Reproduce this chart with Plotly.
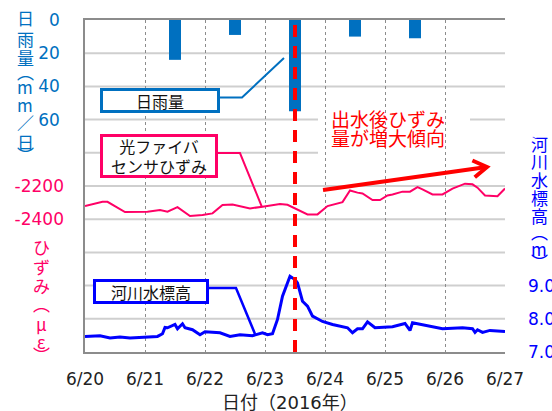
import math
import plotly.graph_objects as go

# ---- data -------------------------------------------------------------
# daily rainfall (mm/day), drawn at noon of each day
RAIN_DAYS = ["2016-06-21 12:00", "2016-06-22 12:00", "2016-06-23 12:00",
             "2016-06-24 12:00", "2016-06-25 12:00"]
RAIN_MM = [24, 9, 55, 10, 11]

# optical fibre sensor strain (micro-strain)
STRAIN_TIME = [
    "2016-06-20 00:00", "2016-06-20 07:00", "2016-06-20 09:00", "2016-06-20 16:00",
    "2016-06-21 01:00", "2016-06-21 06:00", "2016-06-21 09:00", "2016-06-21 13:00",
    "2016-06-21 18:00", "2016-06-21 23:00", "2016-06-22 03:00", "2016-06-22 07:00",
    "2016-06-22 11:00", "2016-06-22 18:00", "2016-06-22 23:00", "2016-06-23 06:00",
    "2016-06-23 09:00", "2016-06-23 14:00", "2016-06-23 17:00", "2016-06-23 21:00",
    "2016-06-24 01:00", "2016-06-24 07:00", "2016-06-24 10:00", "2016-06-24 13:00",
    "2016-06-24 15:00", "2016-06-24 19:00", "2016-06-24 22:00", "2016-06-25 01:00",
    "2016-06-25 03:00", "2016-06-25 07:00", "2016-06-25 10:00", "2016-06-25 13:00",
    "2016-06-25 15:00", "2016-06-25 19:00", "2016-06-25 23:00", "2016-06-26 03:00",
    "2016-06-26 08:00", "2016-06-26 11:00", "2016-06-26 13:00", "2016-06-26 16:00",
    "2016-06-26 21:00", "2016-06-27 00:00",
]
STRAIN_UE = [
    -2321, -2295, -2295, -2357,
    -2355, -2345, -2355, -2327,
    -2381, -2375, -2365, -2315,
    -2311, -2335, -2325, -2309,
    -2313, -2351, -2371, -2371,
    -2321, -2297, -2227, -2240,
    -2245, -2285, -2285, -2257,
    -2251, -2234, -2234, -2207,
    -2220, -2251, -2251, -2216,
    -2186, -2190, -2210, -2257,
    -2261, -2215,
]

# river water surface elevation (m)
LEVEL_TIME = [
    "2016-06-20 00:00", "2016-06-20 06:00", "2016-06-20 10:00", "2016-06-20 14:00",
    "2016-06-20 18:00", "2016-06-21 05:00", "2016-06-21 07:00", "2016-06-21 08:00",
    "2016-06-21 09:00", "2016-06-21 12:00", "2016-06-21 13:00", "2016-06-21 15:00",
    "2016-06-21 16:00", "2016-06-21 19:00", "2016-06-21 22:00", "2016-06-22 00:00",
    "2016-06-22 06:00", "2016-06-22 10:00", "2016-06-22 14:00", "2016-06-22 19:00",
    "2016-06-22 23:00", "2016-06-23 01:00", "2016-06-23 03:00", "2016-06-23 05:00",
    "2016-06-23 07:00", "2016-06-23 10:00", "2016-06-23 12:00", "2016-06-23 13:00",
    "2016-06-23 15:00", "2016-06-23 17:00", "2016-06-23 19:00", "2016-06-23 23:00",
    "2016-06-24 03:00", "2016-06-24 09:00", "2016-06-24 11:00", "2016-06-24 13:00",
    "2016-06-24 15:00", "2016-06-24 17:00", "2016-06-24 20:00", "2016-06-25 03:00",
    "2016-06-25 08:00", "2016-06-25 10:00", "2016-06-25 11:00", "2016-06-25 14:00",
    "2016-06-25 18:00", "2016-06-25 23:00", "2016-06-26 07:00", "2016-06-26 11:00",
    "2016-06-26 12:00", "2016-06-26 13:00", "2016-06-26 15:00", "2016-06-26 18:00",
    "2016-06-27 00:00",
]
LEVEL_M = [
    7.47, 7.49, 7.42, 7.45,
    7.42, 7.47, 7.55, 7.74,
    7.73, 7.83, 7.70, 7.85,
    7.73, 7.67, 7.52, 7.61,
    7.58, 7.47, 7.52, 7.49,
    7.58, 7.52, 7.55, 7.98,
    8.68, 9.28, 9.18, 9.08,
    8.53, 8.38, 8.08, 7.92,
    7.83, 7.73, 7.58, 7.70,
    7.70, 7.91, 7.73, 7.76,
    7.86, 7.65, 7.88, 7.83,
    7.77, 7.70, 7.73, 7.70,
    7.59, 7.67, 7.59, 7.65,
    7.62,
]

DATE_TICKS = ["2016-06-20", "2016-06-21", "2016-06-22", "2016-06-23",
              "2016-06-24", "2016-06-25", "2016-06-26", "2016-06-27"]
DATE_LABELS = ["6/20", "6/21", "6/22", "6/23", "6/24", "6/25", "6/26", "6/27"]
RAIN_TICKS = [0, 20, 40, 60]
RAIN_GRID = [20, 40, 60, 80, 100, 120, 140, 160, 180]
STRAIN_TICKS = [-2400, -2200]
STRAIN_LABELS = ["-2400", "-2200"]
LEVEL_TICKS = [7, 8, 9]
LEVEL_LABELS = ["7.0", "8.0", "9.0"]
FLOOD_TIME = "2016-06-23 12:00"

# ---- styling ----------------------------------------------------------
W, H = 552, 411
L, R, T, B = 85, 47, 20, 59
PW, PH = W - L - R, H - T - B

RAIN_C = "#0070C0"
STRAIN_C = "#FF0066"
LEVEL_C = "#0000FF"
RED = "#FF0000"
GRID_C = "#CFCFCF"
FONT = "DejaVu Sans, Noto Sans CJK JP, sans-serif"
JFONT = "Noto Sans CJK JP, DejaVu Sans, sans-serif"


def px(x):
    return (x - L) / PW


def py(y):
    return (H - B - y) / PH


fig = go.Figure()

fig.add_trace(go.Bar(
    x=RAIN_DAYS, y=RAIN_MM, yaxis="y", marker_color=RAIN_C,
    marker_line_width=0, width=0.2 * 86400000, name="日雨量",
))
fig.add_trace(go.Scatter(
    x=STRAIN_TIME, y=STRAIN_UE, yaxis="y2", mode="lines",
    line=dict(color=STRAIN_C, width=2), name="光ファイバセンサひずみ",
))
fig.add_trace(go.Scatter(
    x=LEVEL_TIME, y=LEVEL_M, yaxis="y3", mode="lines",
    line=dict(color=LEVEL_C, width=3), name="河川水標高",
))

tickfont = dict(family=FONT, size=17)

fig.update_layout(
    width=W, height=H, margin=dict(l=L, r=R, t=T, b=B, autoexpand=False),
    paper_bgcolor="white", plot_bgcolor="white", showlegend=False,
    xaxis=dict(
        type="date", range=[DATE_TICKS[0], DATE_TICKS[-1]], automargin=False,
        tickvals=DATE_TICKS, ticktext=DATE_LABELS, ticks="",
        tickfont=dict(tickfont, color="#222222"), ticklabelstandoff=11,
        showgrid=True, gridcolor="#8C8C8C", griddash="3px,3px", gridwidth=1,
        showline=True, linecolor="#8C8C8C", linewidth=1.5, mirror=True,
        zeroline=False,
    ),
    yaxis=dict(
        range=[200, 0], tickvals=RAIN_TICKS, ticks="", automargin=False,
        tickfont=dict(tickfont, color=RAIN_C), ticklabelstandoff=20,
        showgrid=False, zeroline=False,
        showline=True, linecolor="#8C8C8C", linewidth=1.5,
    ),
    yaxis2=dict(
        range=[-3200, -1200], tickvals=STRAIN_TICKS, ticktext=STRAIN_LABELS,
        ticks="", automargin=False, overlaying="y", side="left",
        tickfont=dict(tickfont, color=STRAIN_C), ticklabelstandoff=20,
        showgrid=False, zeroline=False,
    ),
    yaxis3=dict(
        range=[7, 17], tickvals=LEVEL_TICKS, ticktext=LEVEL_LABELS, ticks="",
        overlaying="y", side="right", anchor="x", automargin=False,
        tickfont=dict(tickfont, color=LEVEL_C), ticklabelstandoff=22,
        showgrid=False, zeroline=False,
    ),
)

shapes = []
# horizontal grid lines at every rainfall-axis step
for g in RAIN_GRID:
    shapes.append(dict(type="line", xref="paper", yref="y", x0=0, x1=1,
                       y0=g, y1=g, layer="between",
                       line=dict(color=GRID_C, width=2)))
# flood timing marker
shapes.append(dict(type="line", xref="x", yref="paper", x0=FLOOD_TIME, x1=FLOOD_TIME,
                   y0=0, y1=1, layer="above",
                   line=dict(color=RED, width=4, dash="12px,9px")))
# white panel behind the remark text
shapes.append(dict(type="rect", xref="paper", yref="paper",
                   x0=px(318), x1=px(470), y0=py(162), y1=py(95),
                   fillcolor="white", line=dict(width=0), layer="between"))


def path(points, color, width):
    d = "M " + " L ".join(f"{px(a):.4f},{py(b):.4f}" for a, b in points)
    return dict(type="path", xref="paper", yref="paper", path=d,
                line=dict(color=color, width=width), layer="above")


# callout leaders
shapes.append(path([(220, 97.5), (242, 97.5), (284, 58)], RAIN_C, 2))
shapes.append(path([(217, 153), (240, 153), (262, 207)], STRAIN_C, 2))
shapes.append(path([(209, 288), (236, 288), (255, 334)], LEVEL_C, 2.5))

# trend arrow
x0, y0, x1, y1 = 323, 190, 487, 167
ang = math.atan2(y1 - y0, x1 - x0)
hl, ha = 16, math.radians(32)
p1 = (x1 - hl * math.cos(ang - ha), y1 - hl * math.sin(ang - ha))
p2 = (x1 - hl * math.cos(ang + ha), y1 - hl * math.sin(ang + ha))
shapes.append(path([(x0, y0), (x1 - 2, y1 + 0.3)], RED, 4))
shapes.append(path([p1, (x1, y1), p2], RED, 4))

fig.update_layout(shapes=shapes)

ann = []


def box(text, left, top, w, h, color):
    ann.append(dict(
        xref="paper", yref="paper", x=px(left), y=py(top),
        xanchor="left", yanchor="top", text=text, showarrow=False,
        width=w, height=h, align="center", valign="middle",
        font=dict(family=JFONT, size=16, color="#111111"),
        bgcolor="white", bordercolor=color, borderwidth=3, borderpad=0,
    ))


box("日雨量", 100, 88, 114, 19, RAIN_C)
box("光ファイバ<br>センサひずみ", 100, 134, 112, 38, STRAIN_C)
box("河川水標高", 93, 279, 110, 19, LEVEL_C)

# remark text
for txt, yc in (("出水後ひずみ", 118), ("量が増大傾向", 137)):
    ann.append(dict(xref="paper", yref="paper", x=px(329), y=py(yc),
                    xanchor="left", yanchor="middle", text=txt, showarrow=False,
                    font=dict(family=JFONT, size=19, color=RED)))


def vtitle(chars, xc, ycs, color, size):
    for ch, yc in zip(chars, ycs):
        ann.append(dict(xref="paper", yref="paper", x=px(xc), y=py(yc),
                        xanchor="center", yanchor="middle", text=ch,
                        showarrow=False,
                        font=dict(family=JFONT, size=size, color=color)))


vtitle(["日", "雨", "量", "︵", "m", "m", "／", "日", "︶"], 25,
       [18, 38, 58, 72, 86, 104, 123, 141, 154], RAIN_C, 17)
vtitle(["ひ", "ず", "み", "︵", "μ", "ε", "︶"], 41,
       [246, 266, 285, 303, 323, 341, 354], STRAIN_C, 17)
vtitle(["河", "川", "水", "標", "高", "︵", "m", "︶"], 539,
       [143, 161, 179, 197, 215, 232, 249, 261], LEVEL_C, 17)

# x-axis title
ann.append(dict(xref="paper", yref="paper", x=px(290), y=py(402),
                xanchor="center", yanchor="middle", text="日付（2016年）",
                showarrow=False, font=dict(family=FONT, size=18, color="#222222")))

fig.update_layout(annotations=ann)

fig.write_html("out.html")
